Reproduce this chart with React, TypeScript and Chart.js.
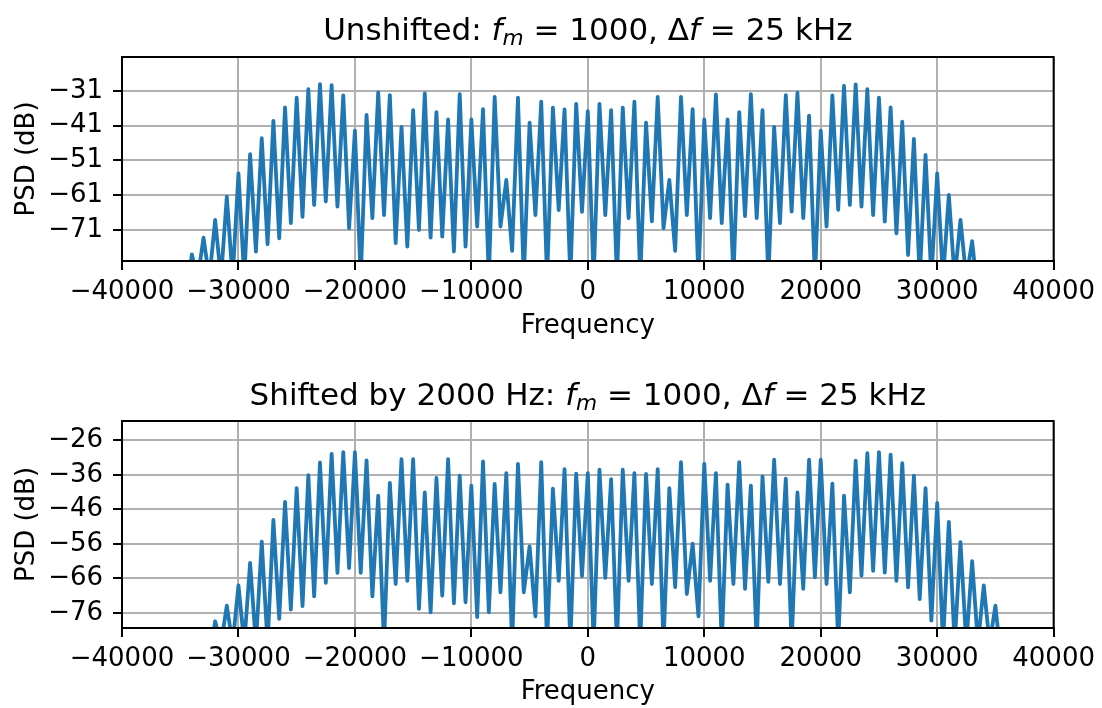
import React, { useEffect, useRef } from 'react';
import { Chart, registerables } from 'chart.js';

Chart.register(...registerables);

const FONT = '"DejaVu Sans", "Liberation Sans", sans-serif';

const X_TICKS = [-40000, -30000, -20000, -10000, 0, 10000, 20000, 30000, 40000];
const TOP_Y_TICKS = [-71, -61, -51, -41, -31];
const BOTTOM_Y_TICKS = [-76, -66, -56, -46, -36, -26];
const TOP_Y_RANGE = [-79.92, -21.22];
const BOTTOM_Y_RANGE = [-80.35, -20.38];

// Unshifted spectrum: line peaks
const TOP_PEAK_FREQ = [
  -34000, -33000, -32000, -31000, -30000, -29000, -28000, -27000, -26000, -25000,
  -24000, -23000, -22000, -21000, -20000, -19000, -18000, -17000, -16000, -15000,
  -14000, -13000, -12000, -11000, -10000, -9000, -8000, -7000, -6000, -5000,
  -4000, -3000, -2000, -1000, 0, 1000, 2000, 3000, 4000, 5000,
  6000, 7000, 8000, 9000, 10000, 11000, 12000, 13000, 14000, 15000,
  16000, 17000, 18000, 19000, 20000, 21000, 22000, 23000, 24000, 25000,
  26000, 27000, 28000, 29000, 30000, 31000, 32000, 33000,
];
const TOP_PEAK_DB = [
  -78.0, -73.2, -68.1, -61.4, -54.7, -49.2, -44.6, -39.6, -35.7, -32.9,
  -30.5, -29.0, -29.3, -32.3, -42.4, -37.9, -31.4, -32.2, -41.3, -36.5,
  -31.7, -37.1, -39.2, -31.9, -39.2, -36.2, -32.7, -56.6, -32.9, -40.1,
  -34.1, -35.8, -36.3, -34.7, -36.8, -34.7, -36.5, -35.8, -34.1, -40.1,
  -32.7, -56.6, -32.7, -36.2, -39.2, -32.0, -39.2, -37.1, -31.9, -36.5,
  -41.3, -32.2, -31.5, -38.1, -42.4, -32.3, -29.5, -29.1, -30.5, -32.9,
  -35.7, -39.8, -44.8, -49.4, -54.7, -60.9, -68.1, -74.2,
];
// Unshifted spectrum: valleys between lines
const TOP_VALLEY_FREQ = [
  -34500, -33500, -32500, -31500, -30500, -29500, -28500, -27500, -26500, -25500,
  -24500, -23500, -22500, -21500, -20500, -19500, -18500, -17500, -16500, -15500,
  -14500, -13500, -12500, -11500, -10500, -9500, -8500, -7500, -6500, -5500,
  -4500, -3500, -2500, -1500, -500, 500, 1500, 2500, 3500, 4500,
  5500, 6500, 7500, 8500, 9500, 10500, 11500, 12500, 13500, 14500,
  15500, 16500, 17500, 18500, 19500, 20500, 21500, 22500, 23500, 24500,
  25500, 26500, 27500, 28500, 29500, 30500, 31500, 32500, 33500,
];
const TOP_VALLEY_DB = [
  -90, -85, -85, -85, -85, -85, -77.2, -75.1, -73.4, -69.0,
  -67.2, -63.8, -62.8, -64.3, -70.5, -85, -67.6, -66.7, -74.8, -75.8,
  -71.0, -73.2, -72.9, -77.2, -75.8, -70.0, -85, -70.0, -77.0, -85,
  -66.7, -85, -65.3, -85, -65.8, -85, -66.7, -85, -67.6, -85,
  -68.5, -70.5, -77.0, -66.7, -85, -67.6, -69.0, -85, -67.0, -67.6,
  -85, -69.0, -65.7, -67.6, -85, -70.0, -65.2, -63.8, -64.3, -66.7,
  -68.6, -72.0, -78.2, -85, -85, -85, -85, -85, -90,
];

// Shifted spectrum: line peaks
const BOTTOM_PEAK_FREQ = [
  -32000, -31000, -30000, -29000, -28000, -27000, -26000, -25000, -24000, -23000,
  -22000, -21000, -20000, -19000, -18000, -17000, -16000, -15000, -14000, -13000,
  -12000, -11000, -10000, -9000, -8000, -7000, -6000, -5000, -4000, -3000,
  -2000, -1000, 0, 1000, 2000, 3000, 4000, 5000, 6000, 7000,
  8000, 9000, 10000, 11000, 12000, 13000, 14000, 15000, 16000, 17000,
  18000, 19000, 20000, 21000, 22000, 23000, 24000, 25000, 26000, 27000,
  28000, 29000, 30000, 31000, 32000, 33000, 34000, 35000,
];
const BOTTOM_PEAK_DB = [
  -78.4, -73.9, -68.0, -61.5, -55.3, -49.0, -43.8, -39.8, -36.1, -32.4,
  -29.9, -29.4, -29.4, -31.8, -42.0, -38.3, -31.4, -31.4, -41.1, -36.9,
  -31.4, -36.2, -39.1, -32.1, -38.6, -35.5, -32.8, -56.7, -32.3, -40.0,
  -34.3, -35.6, -35.5, -34.5, -37.2, -34.5, -35.5, -35.7, -34.3, -39.8,
  -32.3, -55.9, -32.8, -35.5, -38.8, -32.3, -39.1, -36.4, -31.6, -37.1,
  -41.1, -31.6, -31.6, -38.5, -42.0, -31.9, -29.7, -29.4, -30.1, -32.6,
  -36.2, -39.8, -44.1, -49.6, -55.5, -61.0, -68.0, -73.9,
];
// Shifted spectrum: valleys between lines
const BOTTOM_VALLEY_FREQ = [
  -32500, -31500, -30500, -29500, -28500, -27500, -26500, -25500, -24500, -23500,
  -22500, -21500, -20500, -19500, -18500, -17500, -16500, -15500, -14500, -13500,
  -12500, -11500, -10500, -9500, -8500, -7500, -6500, -5500, -4500, -3500,
  -2500, -1500, -500, 500, 1500, 2500, 3500, 4500, 5500, 6500,
  7500, 8500, 9500, 10500, 11500, 12500, 13500, 14500, 15500, 16500,
  17500, 18500, 19500, 20500, 21500, 22500, 23500, 24500, 25500, 26500,
  27500, 28500, 29500, 30500, 31500, 32500, 33500, 34500, 35500,
];
const BOTTOM_VALLEY_DB = [
  -90, -85, -85, -85, -85, -85, -77.7, -75.0, -74.0, -71.2,
  -67.3, -64.4, -63.0, -64.4, -71.2, -85, -67.6, -66.7, -74.8, -75.8,
  -71.0, -73.2, -72.9, -77.2, -75.8, -70.0, -85, -70.0, -77.0, -85,
  -66.7, -85, -65.3, -85, -65.8, -85, -66.7, -85, -67.6, -85,
  -68.5, -70.5, -77.0, -66.7, -85, -67.6, -69.0, -85, -67.0, -67.6,
  -85, -69.0, -65.7, -67.6, -85, -70.0, -65.2, -63.8, -64.3, -66.7,
  -68.6, -72.0, -78.2, -85, -85, -85, -85, -85, -90,
];

type Seg = { text: string; italic?: boolean; sub?: boolean };

const TOP_TITLE: Seg[] = [
  { text: 'Unshifted: ' },
  { text: 'f', italic: true },
  { text: 'm', italic: true, sub: true },
  { text: ' = 1000, ' },
  { text: 'Δ' },
  { text: 'f', italic: true },
  { text: ' = 25 kHz' },
];
const BOTTOM_TITLE: Seg[] = [
  { text: 'Shifted by 2000 Hz: ' },
  { text: 'f', italic: true },
  { text: 'm', italic: true, sub: true },
  { text: ' = 1000, ' },
  { text: 'Δ' },
  { text: 'f', italic: true },
  { text: ' = 25 kHz' },
];

const fmt = (v: number) => (v < 0 ? '\u2212' + Math.abs(v) : String(v));

function buildPoints(pf: number[], pd: number[], vf: number[], vd: number[]) {
  const pts: { x: number; y: number }[] = [];
  pf.forEach((f, i) => pts.push({ x: f, y: pd[i] }));
  vf.forEach((f, i) => pts.push({ x: f, y: vd[i] }));
  pts.sort((a, b) => a.x - b.x);
  return pts;
}

interface PanelCfg {
  points: { x: number; y: number }[];
  yTicks: number[];
  yRange: number[];
  title: Seg[];
  padTop: number;
  xAxisHeight: number;
  xTitlePad: number;
  titleBaseline: number;
}

function makeChart(canvas: HTMLCanvasElement, cfg: PanelCfg) {
  const TITLE_SIZE = 31;
  const titlePlugin = {
    id: 'mtitle',
    afterDraw(chart: any) {
      const ctx = chart.ctx as CanvasRenderingContext2D;
      const area = chart.chartArea;
      const fontFor = (s: Seg) =>
        `${s.italic ? 'oblique ' : ''}${s.sub ? TITLE_SIZE * 0.7 : TITLE_SIZE}px ${FONT}`;
      ctx.save();
      let total = 0;
      const widths = cfg.title.map((s) => {
        ctx.font = fontFor(s);
        const w = ctx.measureText(s.text).width;
        total += w;
        return w;
      });
      let x = (area.left + area.right) / 2 - total / 2;
      ctx.fillStyle = '#000';
      ctx.textBaseline = 'alphabetic';
      ctx.textAlign = 'left';
      cfg.title.forEach((s, i) => {
        ctx.font = fontFor(s);
        ctx.fillText(s.text, x, cfg.titleBaseline + (s.sub ? 5 : 0));
        x += widths[i];
      });
      ctx.restore();
    },
  };
  const framePlugin = {
    id: 'frame',
    afterDraw(chart: any) {
      const { left, top, right, bottom } = chart.chartArea;
      const ctx = chart.ctx as CanvasRenderingContext2D;
      ctx.save();
      ctx.strokeStyle = '#000';
      ctx.lineWidth = 2;
      ctx.strokeRect(left, top, right - left, bottom - top);
      ctx.restore();
    },
  };

  const tickFont = { family: FONT, size: 26 };
  return new Chart(canvas, {
    type: 'line',
    data: {
      datasets: [
        {
          data: cfg.points,
          borderColor: '#1f77b4',
          borderWidth: 3.8,
          borderJoinStyle: 'round',
          borderCapStyle: 'butt',
          pointRadius: 0,
          tension: 0,
          fill: false,
          clip: 0,
        } as any,
      ],
    },
    options: {
      animation: false,
      responsive: false,
      maintainAspectRatio: false,
      parsing: false as any,
      layout: { padding: { top: cfg.padTop, right: 47, left: 0, bottom: 0 } },
      plugins: {
        legend: { display: false },
        title: { display: false },
        tooltip: { enabled: false },
      },
      scales: {
        x: {
          type: 'linear',
          min: -40000,
          max: 40000,
          afterBuildTicks: (s: any) => {
            s.ticks = X_TICKS.map((v) => ({ value: v }));
          },
          afterFit: (s: any) => {
            s.height = cfg.xAxisHeight;
          },
          ticks: {
            callback: (v: any) => fmt(Number(v)),
            font: tickFont,
            color: '#000',
            padding: 7,
            maxRotation: 0,
            minRotation: 0,
            autoSkip: false,
          },
          grid: { color: '#b0b0b0', lineWidth: 2, tickColor: '#000', tickLength: 9, tickWidth: 2 },
          border: { color: '#000', width: 2 },
          title: {
            display: true,
            text: 'Frequency',
            font: tickFont,
            color: '#000',
            padding: { top: 0, bottom: cfg.xTitlePad },
          },
        },
        y: {
          type: 'linear',
          min: cfg.yRange[0],
          max: cfg.yRange[1],
          afterBuildTicks: (s: any) => {
            s.ticks = cfg.yTicks.map((v) => ({ value: v }));
          },
          afterFit: (s: any) => {
            s.width = 122;
          },
          ticks: {
            callback: (v: any) => fmt(Number(v)),
            font: tickFont,
            color: '#000',
            padding: 10,
          },
          grid: { color: '#b0b0b0', lineWidth: 2, tickColor: '#000', tickLength: 9, tickWidth: 2 },
          border: { color: '#000', width: 2 },
          title: {
            display: true,
            text: 'PSD (dB)',
            font: tickFont,
            color: '#000',
            padding: { top: 12, bottom: 0 },
          },
        },
      },
    } as any,
    plugins: [titlePlugin, framePlugin],
  });
}

export default function App() {
  const topRef = useRef<HTMLCanvasElement>(null);
  const botRef = useRef<HTMLCanvasElement>(null);

  useEffect(() => {
    Chart.defaults.font.family = FONT;
    Chart.defaults.color = '#000';
    const c1 = makeChart(topRef.current!, {
      points: buildPoints(TOP_PEAK_FREQ, TOP_PEAK_DB, TOP_VALLEY_FREQ, TOP_VALLEY_DB),
      yTicks: TOP_Y_TICKS,
      yRange: TOP_Y_RANGE,
      title: TOP_TITLE,
      padTop: 57,
      xAxisHeight: 93,
      xTitlePad: 12,
      titleBaseline: 39.5,
    });
    const c2 = makeChart(botRef.current!, {
      points: buildPoints(BOTTOM_PEAK_FREQ, BOTTOM_PEAK_DB, BOTTOM_VALLEY_FREQ, BOTTOM_VALLEY_DB),
      yTicks: BOTTOM_Y_TICKS,
      yRange: BOTTOM_Y_RANGE,
      title: BOTTOM_TITLE,
      padTop: 67,
      xAxisHeight: 80,
      xTitlePad: 0,
      titleBaseline: 50.5,
    });
    return () => {
      c1.destroy();
      c2.destroy();
    };
  }, []);

  return (
    <div style={{ position: 'absolute', left: 0, top: 0, width: 1102, height: 708, background: '#fff' }}>
      <canvas ref={topRef} width={1102} height={354} style={{ display: 'block', width: 1102, height: 354 }} />
      <canvas ref={botRef} width={1102} height={354} style={{ display: 'block', width: 1102, height: 354 }} />
    </div>
  );
}
